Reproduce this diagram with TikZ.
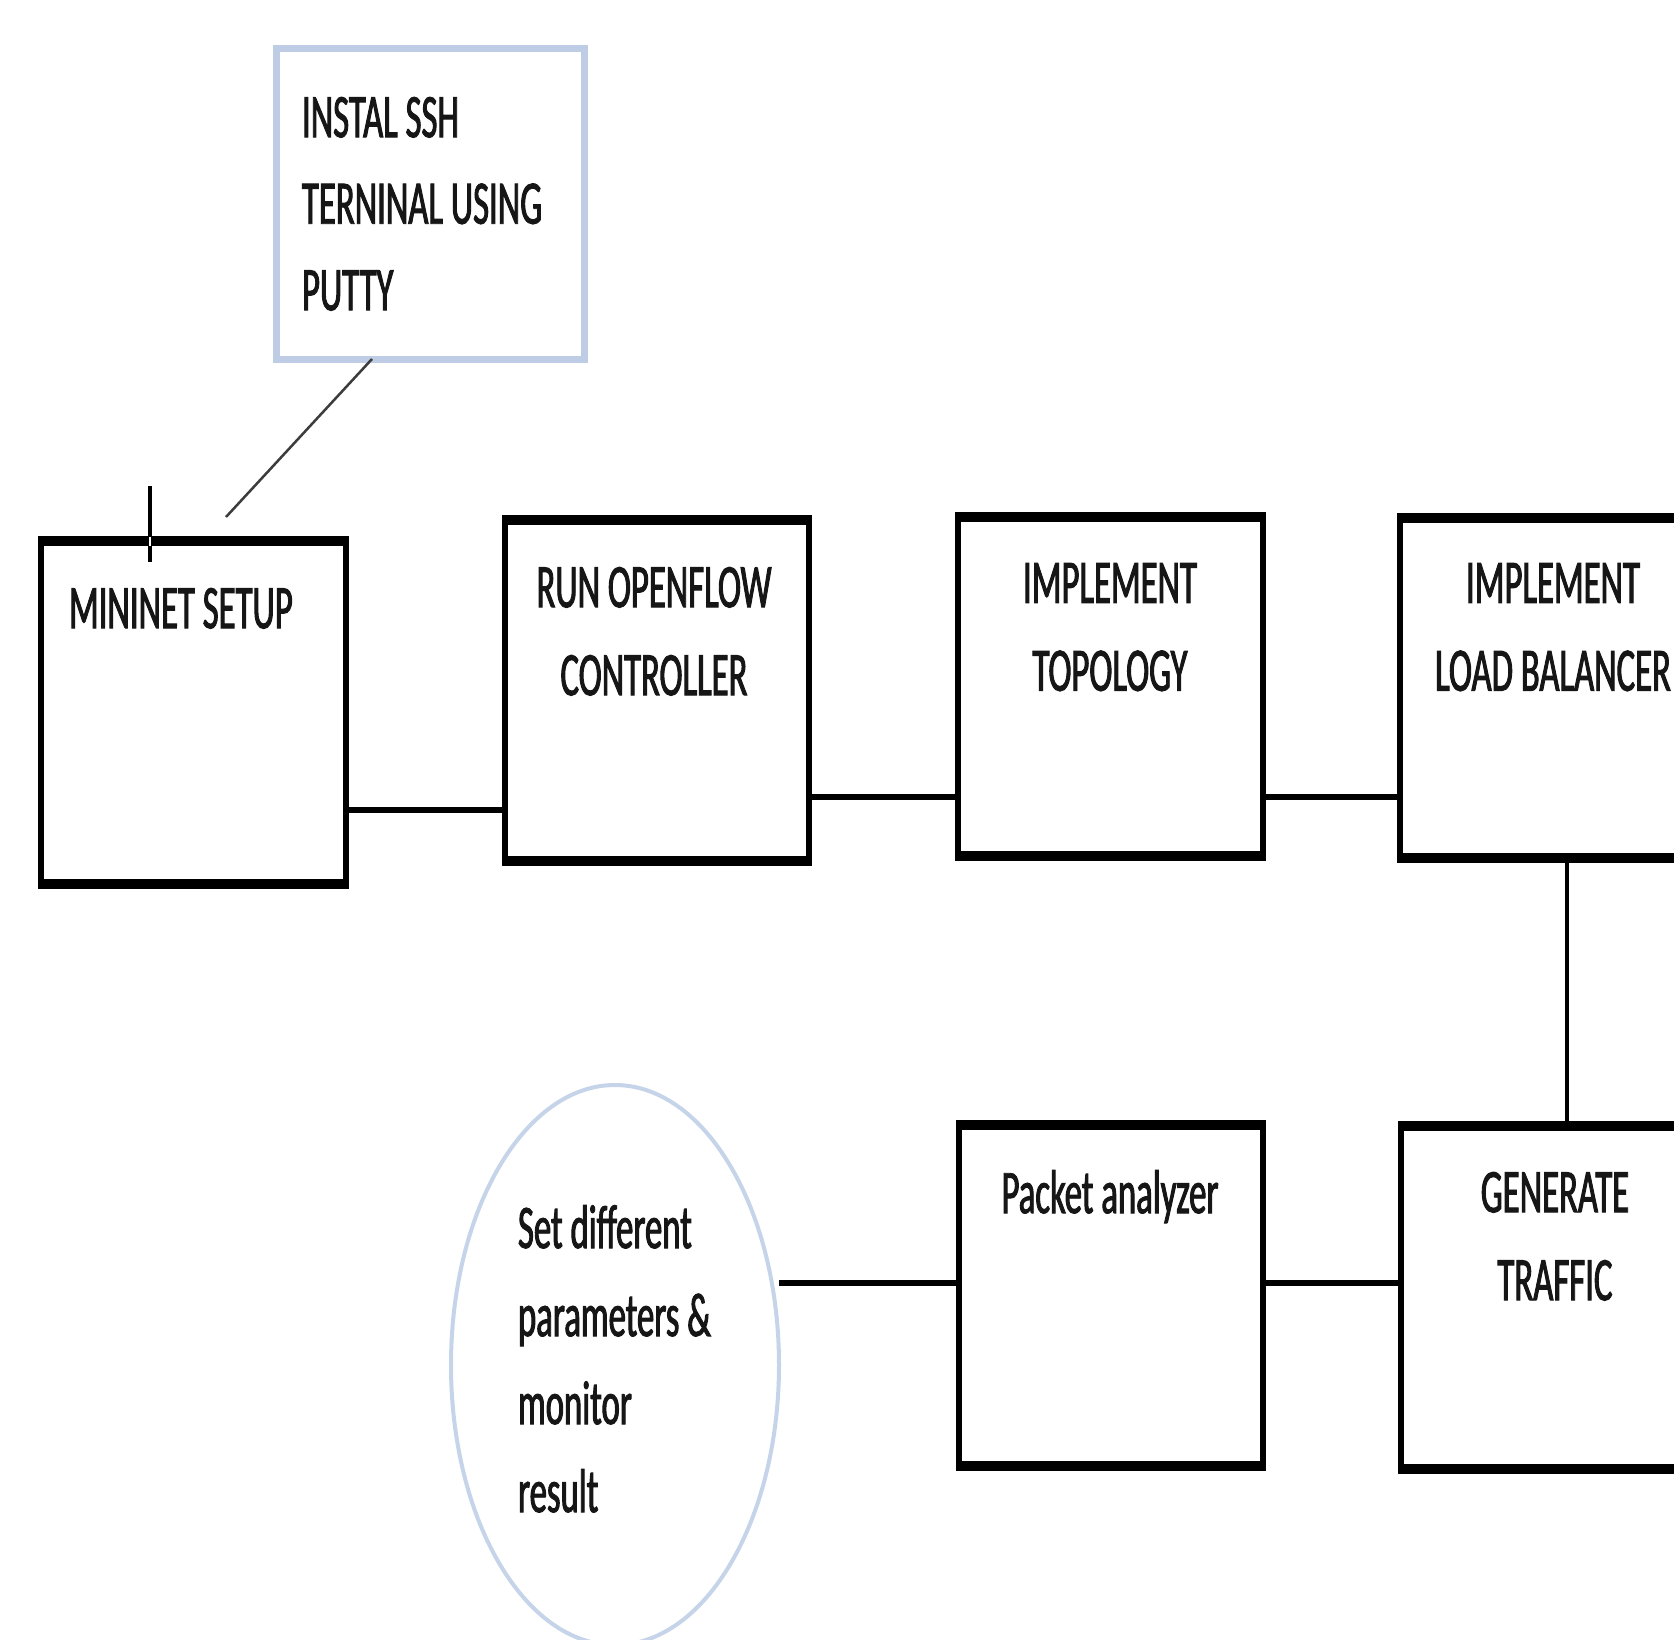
\documentclass[tikz,border=0pt]{standalone}
\usepackage{fontspec}
\setmainfont{Carlito}[FakeStretch=0.56,FakeBold=1.5]
\usetikzlibrary{shapes.geometric}
\definecolor{calloutblue}{RGB}{190,205,229}
\definecolor{ellblue}{RGB}{198,212,234}
\definecolor{ink}{RGB}{22,22,22}
\definecolor{leadgray}{RGB}{60,60,60}
\begin{document}
\begin{tikzpicture}[x=1pt,y=-1pt,
  box/.style={draw=black, line width=6pt, rectangle, inner sep=0pt, outer sep=0pt},
  tbline/.style={line width=9.5pt, shorten <=-3pt, shorten >=-3pt},
  conn/.style={line width=6.5pt},
  vconn/.style={line width=4.5pt},
  txt/.style={inner sep=0pt, outer sep=0pt, text=ink, font=\fontsize{62}{88}\selectfont},
]
\path[use as bounding box, fill=white] (0,0) rectangle (1674,1640);
\clip (0,0) rectangle (1674,1640);

% callout
\node[draw=calloutblue, line width=7pt, rectangle, inner sep=0pt, outer sep=0pt,
      minimum width=308pt, minimum height=310pt] (callout) at (430,204) {};
\node[txt, anchor=north west, align=left, font=\fontsize{62}{86.5}\selectfont] (t-ssh) at (302,97)
  {INSTAL SSH\\TERNINAL USING\\PUTTY};

% boxes
\node[box, minimum width=305pt, minimum height=343pt] (mininet) at (193.5,712.5) {};
\node[box, minimum width=304pt, minimum height=341pt] (run) at (657,690.5) {};
\node[box, minimum width=305pt, minimum height=339pt] (topo) at (1110.5,686.5) {};
\node[box, minimum width=300pt, minimum height=340pt] (lb) at (1550,688) {};
\node[box, minimum width=299pt, minimum height=343pt] (gt) at (1550.5,1297.5) {};
\node[box, minimum width=304pt, minimum height=341pt] (pa) at (1111,1295.5) {};
\foreach \n in {mininet,run,topo,lb,gt,pa}{
  \draw[tbline] (\n.north west) -- (\n.north east);
  \draw[tbline] (\n.south west) -- (\n.south east);
}

% ellipse
\node[draw=ellblue, line width=4pt, ellipse, inner sep=0pt, outer sep=0pt,
      minimum width=328pt, minimum height=560pt] (setp) at (615,1365) {};

% texts
\node[txt, anchor=north west] (t-mininet) at (69,588) {MININET SETUP};
\node[txt, anchor=north, align=center] (t-run) at (654,567) {RUN OPENFLOW\\CONTROLLER};
\node[txt, anchor=north, align=center] (t-topo) at (1110,563) {IMPLEMENT\\TOPOLOGY};
\node[txt, anchor=north, align=center] (t-lb) at (1553,563) {IMPLEMENT\\LOAD BALANCER};
\node[txt, anchor=north, align=center] (t-gt) at (1555,1172) {GENERATE\\TRAFFIC};
\node[txt, anchor=north] (t-pa) at (1110,1170) {Packet analyzer};
\node[txt, anchor=north west, align=left] (t-setp) at (518,1205)
  {Set different\\parameters \&\\monitor\\result};

% connectors
\coordinate (r1) at (0,810);
\coordinate (r2) at (0,797);
\coordinate (r3) at (0,1283);
\coordinate (c1) at (1567,0);
\draw[conn] (mininet.east |- r1) -- (run.west |- r1);
\draw[conn] (run.east |- r2) -- (topo.west |- r2);
\draw[conn] (topo.east |- r2) -- (lb.west |- r2);
\draw[vconn] (lb.south -| c1) -- (gt.north -| c1);
\draw[conn] (pa.east |- r3) -- (gt.west |- r3);
\draw[conn] (setp.east |- r3) -- (pa.west |- r3);

% callout leader
\coordinate (lead-end) at (226,517);
\draw[leadgray, line width=2.5pt] ([xshift=96pt]callout.south west) -- (lead-end);

% text cursor mark
\coordinate (cur-a) at (150,486);
\coordinate (cur-b) at (150,562);
\coordinate (cur-c) at (150,537);
\coordinate (cur-d) at (150,546);
\draw[line width=3.5pt] (cur-a) -- (cur-b);
\draw[white, line width=2pt] (cur-c) -- (cur-d);
\end{tikzpicture}
\end{document}
